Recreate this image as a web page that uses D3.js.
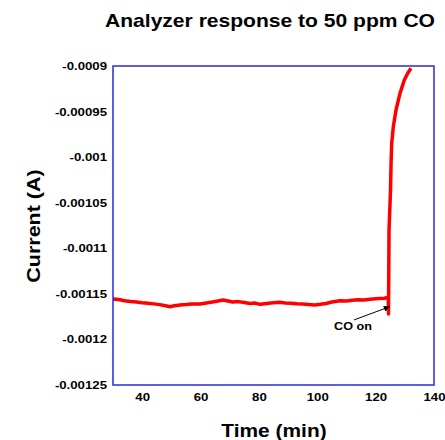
<!DOCTYPE html>
<html>
<head>
<meta charset="utf-8">
<script src="https://cdn.jsdelivr.net/npm/d3@7"></script>
<style>
  body { margin: 0; background: #fff; }
  text { font-family: "Liberation Sans", Arial, sans-serif; font-weight: bold; fill: #000; }
</style>
</head>
<body>
<svg></svg>
<script>
// time in minutes, current in amps
const times = [30, 32, 34, 36, 38, 40, 42, 44, 46, 48, 49.5, 51, 53, 55, 57, 59.8, 62, 64, 66, 67.7, 69, 71, 73, 75, 77, 78.5, 80.4, 82, 84, 86, 87.2, 89, 91, 93, 95, 97, 99.2, 101, 103, 105, 107.8, 110, 112, 114, 116, 118, 119.1, 121, 123, 123.8, 124.35,
  124.4, 124.5, 124.59, 125.1, 125.3, 125.51, 126.06, 126.98, 128.35, 129.83, 131, 132.12];
const current = [-0.0011556, -0.0011562, -0.0011575, -0.0011585, -0.0011590, -0.0011598, -0.0011602, -0.0011610, -0.0011618, -0.0011630, -0.0011641, -0.0011630, -0.0011622, -0.0011618, -0.0011612, -0.0011611, -0.0011600, -0.0011590, -0.0011578, -0.0011567, -0.0011575, -0.0011590, -0.0011585, -0.0011595, -0.0011605, -0.0011600, -0.0011615, -0.0011608, -0.0011600, -0.0011596, -0.0011593, -0.0011600, -0.0011604, -0.0011608, -0.0011610, -0.0011616, -0.0011622, -0.0011615, -0.0011605, -0.0011590, -0.0011575, -0.0011578, -0.0011570, -0.0011565, -0.0011568, -0.0011560, -0.0011556, -0.0011552, -0.0011548, -0.0011542, -0.0011545,
  -0.0011721, -0.0011300, -0.0010800, -0.0010360, -0.0010050, -0.0009848, -0.0009666, -0.0009483, -0.0009300, -0.0009154, -0.0009080, -0.0009025];
const xTicks = [40, 60, 80, 100, 120, 140];
const yTicks = [-0.0009, -0.00095, -0.001, -0.00105, -0.0011, -0.00115, -0.0012, -0.00125];

const width = 445;
const height = 440;
const margin = { top: 66, right: 11, bottom: 55, left: 113 };

const svg = d3.select('svg')
  .attr('width', width)
  .attr('height', height);

const x = d3.scaleLinear()
  .domain([30, 140])
  .range([margin.left, width - margin.right]);

const y = d3.scaleLinear()
  .domain([-0.00125, -0.0009])
  .range([height - margin.bottom, margin.top]);

// the original lettering is a bit wider than Arial, stretch it
function widen(sel, k) {
  sel.each(function() {
    const w = this.getComputedTextLength();
    d3.select(this)
      .attr('textLength', w * k)
      .attr('lengthAdjust', 'spacingAndGlyphs');
  });
}

// title
svg.append('text')
  .attr('x', 270)
  .attr('y', 27)
  .attr('text-anchor', 'middle')
  .style('font-size', '19px')
  .attr('textLength', 330)
  .attr('lengthAdjust', 'spacingAndGlyphs')
  .text('Analyzer response to 50 ppm CO');

// axes, labels only
const xAxis = svg.append('g')
  .attr('transform', `translate(0,${height - margin.bottom})`)
  .call(d3.axisBottom(x).tickValues(xTicks).tickSize(0).tickPadding(8).tickFormat(d3.format('d')));
xAxis.select('.domain').remove();
xAxis.selectAll('text').style('font-size', '11px').style('font-family', null).call(widen, 1.2);

const yAxis = svg.append('g')
  .attr('transform', `translate(${margin.left},0)`)
  .call(d3.axisLeft(y).tickValues(yTicks).tickSize(0).tickPadding(6).tickFormat(d => String(+d.toPrecision(6))));
yAxis.select('.domain').remove();
yAxis.selectAll('text').style('font-size', '11px').style('font-family', null).call(widen, 1.2);

// axis titles
svg.append('text')
  .attr('x', 274)
  .attr('y', 437)
  .attr('text-anchor', 'middle')
  .style('font-size', '19px')
  .text('Time (min)')
  .call(widen, 1.1);

svg.append('text')
  .attr('transform', 'translate(40,226) rotate(-90)')
  .attr('text-anchor', 'middle')
  .style('font-size', '19px')
  .text('Current (A)')
  .call(widen, 1.13);

// data line
const points = times.map((t, i) => [t, current[i]]);
svg.append('path')
  .datum(points)
  .attr('fill', 'none')
  .attr('stroke', '#ff0000')
  .attr('stroke-width', 3.5)
  .attr('stroke-linejoin', 'round')
  .attr('d', d3.line().x(d => x(d[0])).y(d => y(d[1])));

// plot frame
svg.append('rect')
  .attr('x', margin.left)
  .attr('y', margin.top)
  .attr('width', width - margin.left - margin.right)
  .attr('height', height - margin.top - margin.bottom)
  .attr('fill', 'none')
  .attr('stroke', '#2a2ad8')
  .attr('stroke-width', 1.5);

// annotation
svg.append('defs').append('marker')
  .attr('id', 'arrow')
  .attr('viewBox', '0 0 10 10')
  .attr('refX', 10)
  .attr('refY', 5)
  .attr('markerWidth', 7)
  .attr('markerHeight', 6)
  .attr('orient', 'auto')
  .append('path')
  .attr('d', 'M0,0 L10,5 L0,10 z')
  .attr('fill', '#000');

svg.append('line')
  .attr('x1', x(112.6))
  .attr('y1', y(-0.0011786))
  .attr('x2', x(124.9))
  .attr('y2', y(-0.0011640))
  .attr('stroke', '#000')
  .attr('stroke-width', 1)
  .attr('marker-end', 'url(#arrow)');

svg.append('text')
  .attr('x', 353)
  .attr('y', 330)
  .attr('text-anchor', 'middle')
  .style('font-size', '11px')
  .text('CO on')
  .call(widen, 1.15);
</script>
</body>
</html>
